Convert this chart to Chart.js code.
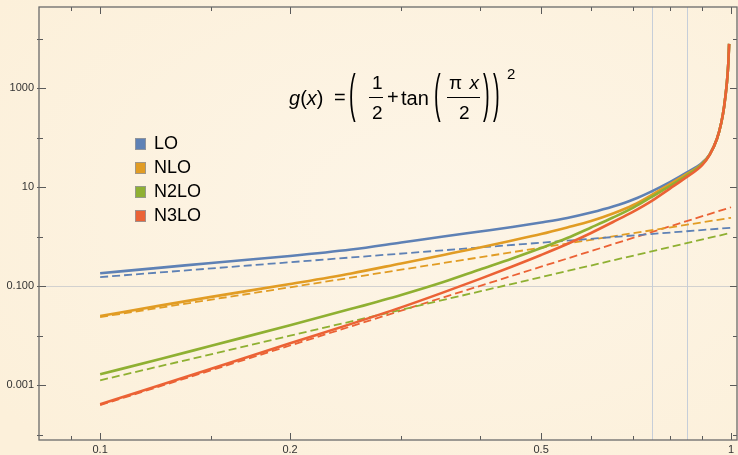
<!DOCTYPE html>
<html lang="es">
<head>
<meta charset="UTF-8">
<title>g(x)</title>
<script src="https://cdn.jsdelivr.net/npm/chart.js@4.4.0/dist/chart.umd.min.js"></script>
<style>
    html, body { margin: 0; padding: 0; }
    body { width: 738px; height: 455px; overflow: hidden; }
    #contenedor {
        position: relative; width: 738px; height: 455px;
        background: radial-gradient(ellipse 75% 75% at 60% 45%, #fdf5e7 0%, #fcf0da 100%);
    }
    #grafico { position: absolute; left: 0; top: 0; }
    .f {
        position: absolute; font-family: "Liberation Sans", Arial, sans-serif;
        font-size: 20px; line-height: 20px; color: #000; white-space: nowrap;
    }
    .n { font-size: 19px; line-height: 19px; }
    .barra { position: absolute; height: 1.3px; background: #000; }
    .par { transform: scaleY(2.55); transform-origin: 50% 11.8px; }
    #leyenda { position: absolute; left: 135px; top: 134px; }
    .item {
        position: relative; height: 24px; width: 80px;
        font-family: "Liberation Sans", Arial, sans-serif; font-size: 18px; line-height: 18px; color: #000;
    }
    .cuadro { position: absolute; left: 0; top: 4px; width: 9px; height: 10px; border: 1px solid rgba(150,150,150,0.85); }
    .texto { position: absolute; left: 19px; top: 0; }
</style>
</head>
<body>
<div id="contenedor">
    <canvas id="grafico" width="738" height="455"></canvas>

    <!-- fórmula -->
    <div id="formula">
        <span class="f" style="left:289px;top:88px"><i>g</i>(<i>x</i>)</span>
        <span class="f" style="left:334px;top:87px">=</span>
        <span class="f par" style="left:349px;top:86px">(</span>
        <span class="f n" style="left:372px;top:73px">1</span>
        <div class="barra" style="left:369px;top:97px;width:14px"></div>
        <span class="f n" style="left:372px;top:103px">2</span>
        <span class="f" style="left:387px;top:87px">+</span>
        <span class="f" style="left:401px;top:88px">tan</span>
        <span class="f par" style="left:434px;top:86px">(</span>
        <span class="f n" style="left:449px;top:73px;letter-spacing:1px">π <i>x</i></span>
        <div class="barra" style="left:447px;top:97px;width:33px"></div>
        <span class="f n" style="left:459px;top:103px">2</span>
        <span class="f par" style="left:483px;top:86px">)</span>
        <span class="f par" style="left:493px;top:86px">)</span>
        <span class="f" style="left:507px;top:66px;font-size:15px;line-height:15px">2</span>
    </div>

    <div id="leyenda"></div>
</div>

<script>
// --- DATOS ---
const nombres = ["LO", "NLO", "N2LO", "N3LO"];
const colores = ["#5E81B5", "#E19C24", "#8FB032", "#EB6235"];

// curvas continuas
const xCurva = [0.1, 0.125, 0.15, 0.2, 0.25, 0.3, 0.35, 0.4, 0.45, 0.5, 0.55, 0.6, 0.65,
    0.7, 0.75, 0.8, 0.85, 0.9, 0.925, 0.95, 0.965, 0.975, 0.985, 0.99, 0.993];
const curvaLO = [0.185, 0.239, 0.298, 0.412, 0.557, 0.771, 1.02, 1.285, 1.58, 1.95, 2.41, 3.1, 4.1,
    5.68, 8.42, 12.8, 19.9, 31.6, 46.5, 96, 202, 426, 1300, 3130, 7900];
const curvaNLO = [0.0252, 0.0414, 0.0614, 0.112, 0.183, 0.291, 0.432, 0.611, 0.846, 1.14, 1.55, 2.09, 2.96,
    4.4, 7.16, 11.65, 18.5, 30.2, 46, 96, 202, 426, 1300, 3130, 7900];
const curvaN2LO = [0.00168, 0.00345, 0.00632, 0.0164, 0.0352, 0.0674, 0.123, 0.22, 0.367, 0.597, 0.95, 1.55, 2.46,
    3.91, 6.52, 10.6, 17.3, 29.5, 45.8, 96, 202, 426, 1300, 3130, 7900];
const curvaN3LO = [0.000418, 0.00103, 0.00217, 0.00709, 0.0175, 0.0377, 0.0757, 0.142, 0.253, 0.432, 0.719, 1.2, 2.0,
    3.25, 5.42, 9.46, 16.1, 28.2, 45.5, 96, 202, 426, 1300, 3130, 7900];

// rectas discontinuas
const xRecta = [0.1, 0.2, 0.5, 1];
const rectaLO = [0.154, 0.308, 0.763, 1.53];
const rectaNLO = [0.024, 0.096, 0.607, 2.43];
const rectaN2LO = [0.00127, 0.0101, 0.154, 1.21];
const rectaN3LO = [0.0004, 0.0064, 0.25, 3.97];

// marcas de los ejes
const xMarcas = [0.1, 0.2, 0.5, 1];
const xEtiquetas = ["0.1", "0.2", "0.5", "1"];
const xMarcasMenores = [0.09, 0.15, 0.3, 0.4, 0.6, 0.7, 0.8, 0.9];
const yMarcas = [0.001, 0.1, 10, 1000];
const yEtiquetas = ["0.001", "0.100", "10", "1000"];
const yMarcasMenores = [1e-4, 0.01, 1, 100, 1e4];
const lineasX = [0.75, 0.85];
const lineasY = [0.1];

const fuente = "'Liberation Sans', Arial, sans-serif";

// --- LEYENDA ---
const leyenda = document.getElementById("leyenda");
nombres.forEach((n, i) => {
    const item = document.createElement("div");
    item.className = "item";
    item.innerHTML = `<span class="cuadro" style="background:${colores[i]}"></span><span class="texto">${n}</span>`;
    leyenda.appendChild(item);
});

// --- MARCO, MARCAS Y LÍNEAS DE REJILLA ---
const marco = {
    id: "marco",
    beforeDatasetsDraw(chart) {
        const { ctx, chartArea: a, scales: { x, y } } = chart;
        ctx.save();
        ctx.lineWidth = 1;
        ctx.strokeStyle = "rgba(205,205,205,0.9)";
        lineasY.forEach(v => {
            const py = Math.round(y.getPixelForValue(v)) + 0.5;
            ctx.beginPath(); ctx.moveTo(a.left, py); ctx.lineTo(a.right, py); ctx.stroke();
        });
        ctx.strokeStyle = "rgba(195,203,216,0.95)";
        lineasX.forEach(v => {
            const px = Math.round(x.getPixelForValue(v)) + 0.5;
            ctx.beginPath(); ctx.moveTo(px, a.top); ctx.lineTo(px, a.bottom); ctx.stroke();
        });
        ctx.restore();
    },
    afterDraw(chart) {
        const { ctx, chartArea: a, scales: { x, y } } = chart;
        ctx.save();
        ctx.strokeStyle = "#5a5a5a";
        ctx.lineWidth = 1;
        const marcaX = (v, largo) => {
            const px = Math.round(x.getPixelForValue(v)) + 0.5;
            ctx.beginPath();
            ctx.moveTo(px, a.bottom); ctx.lineTo(px, a.bottom - largo);
            ctx.moveTo(px, a.top); ctx.lineTo(px, a.top + largo);
            ctx.stroke();
        };
        const marcaY = (v, largo) => {
            const py = Math.round(y.getPixelForValue(v)) + 0.5;
            ctx.beginPath();
            ctx.moveTo(a.left - 2, py); ctx.lineTo(a.left + largo, py);
            ctx.moveTo(a.right, py); ctx.lineTo(a.right - largo, py);
            ctx.stroke();
        };
        xMarcas.forEach(v => marcaX(v, 7));
        xMarcasMenores.forEach(v => marcaX(v, 4));
        yMarcas.forEach(v => marcaY(v, 7));
        yMarcasMenores.forEach(v => marcaY(v, 4));

        ctx.strokeStyle = "#6a6a6a";
        ctx.lineWidth = 1.3;
        ctx.strokeRect(a.left, a.top, a.right - a.left, a.bottom - a.top);
        ctx.restore();
    }
};

// --- GRÁFICO ---
const aPuntos = (xs, ys) => xs.map((v, i) => ({ x: v, y: ys[i] }));
const curvas = [curvaLO, curvaNLO, curvaN2LO, curvaN3LO];
const rectas = [rectaLO, rectaNLO, rectaN2LO, rectaN3LO];

const datasets = [];
curvas.forEach((c, i) => {
    datasets.push({
        label: nombres[i],
        data: aPuntos(xCurva, c),
        borderColor: colores[i],
        borderWidth: 2.6,
        pointRadius: 0,
        cubicInterpolationMode: "monotone",
        order: 4 - i
    });
});
rectas.forEach((r, i) => {
    datasets.push({
        label: nombres[i] + " (serie)",
        data: aPuntos(xRecta, r),
        borderColor: colores[i],
        borderWidth: 1.8,
        borderDash: [8, 4],
        pointRadius: 0,
        order: 10 + i
    });
});

const grafico = new Chart(document.getElementById("grafico"), {
    type: "line",
    data: { datasets },
    options: {
        responsive: false,
        animation: false,
        layout: { padding: { top: 7, right: 1, left: 0, bottom: 0 } },
        plugins: { legend: { display: false }, tooltip: { enabled: false } },
        scales: {
            x: {
                type: "logarithmic",
                min: 0.08,
                max: 1.022,
                afterBuildTicks: s => { s.ticks = xMarcas.map(v => ({ value: v })); },
                afterFit: s => { s.height = 15; s.paddingLeft = 0; s.paddingRight = 0; },
                grid: { display: false, drawTicks: false },
                border: { display: false },
                ticks: {
                    autoSkip: false, maxRotation: 0, padding: 3,
                    color: "#333", font: { family: fuente, size: 11 },
                    callback: (v, i) => xEtiquetas[i]
                }
            },
            y: {
                type: "logarithmic",
                min: 7.9e-5,
                max: 4.4e4,
                afterBuildTicks: s => { s.ticks = yMarcas.map(v => ({ value: v })); },
                afterFit: s => { s.width = 39; s.paddingTop = 0; s.paddingBottom = 0; },
                grid: { display: false, drawTicks: false },
                border: { display: false },
                ticks: {
                    autoSkip: false, padding: 5,
                    color: "#333", font: { family: fuente, size: 11 },
                    callback: (v, i) => yEtiquetas[i]
                }
            }
        }
    },
    plugins: [marco]
});
</script>
</body>
</html>
